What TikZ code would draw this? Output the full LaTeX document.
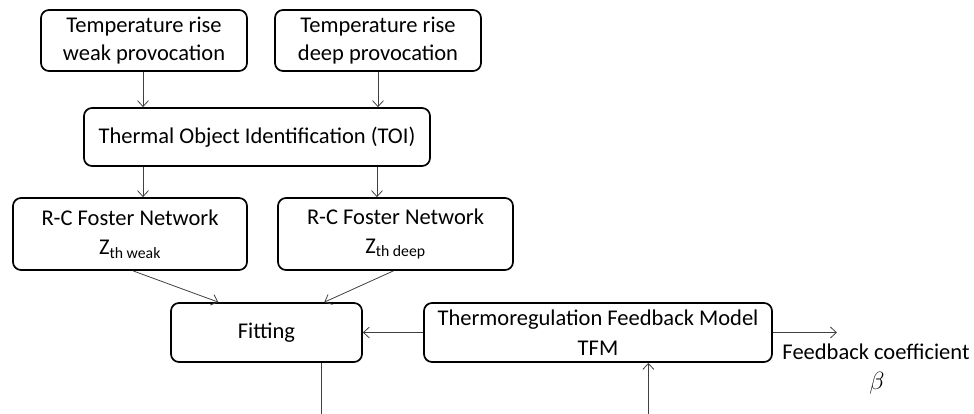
\documentclass[tikz,border=0pt]{standalone}
\usepackage{fontspec}
\setmainfont{Carlito}
\usetikzlibrary{calc,arrows.meta}

\tikzset{
	blok/.style={draw, line width=1.7pt, rounded corners=8pt, align=center,
		inner sep=0pt, font=\fontsize{22.5}{28}\selectfont},
	freccia/.style={-{Straight Barb[length=6pt,width=11pt]}, line width=0.8pt, draw=black!75},
	linea/.style={line width=0.8pt, draw=black!75}
}

\begin{document}
\begin{tikzpicture}[x=1pt,y=-1pt]

	\useasboundingbox (0,0) rectangle (974,414);

	% Provocazioni in alto
	\node[blok, minimum width=206pt, minimum height=61pt] (weak) at (144,40.5)
		{Temperature rise\\weak provocation};
	\node[blok, minimum width=206pt, minimum height=61pt] (deep) at (378,40.5)
		{Temperature rise\\deep provocation};

	% Identificazione
	\node[blok, minimum width=346pt, minimum height=58pt] (toi) at (257,137)
		{Thermal Object Identification (TOI)};

	% Reti di Foster
	\node[blok, minimum width=234pt, minimum height=72pt] (rcweak) at (130,234)
		{R-C Foster Network\\[1pt]Z\textsubscript{th weak}};
	\node[blok, minimum width=235pt, minimum height=72pt] (rcdeep) at (395.5,234)
		{R-C Foster Network\\[1pt]Z\textsubscript{th deep}};

	% Fitting e modello
	\node[blok, minimum width=191pt, minimum height=59pt] (fit) at (266.5,332.5)
		{Fitting};
	\node[blok, minimum width=348pt, minimum height=59pt] (tfm) at (598,332.5)
		{Thermoregulation Feedback Model\\[2pt]TFM};

	\node[font=\fontsize{22.5}{28}\selectfont, inner sep=0pt] (coeff) at (876,352)
		{Feedback coefficient};
	\node[font=\fontsize{27}{30}\selectfont, inner sep=0pt] (beta) at (877,383)
		{$\beta$};

	\coordinate (uscita) at (837,332.5);
	\coordinate (giuFit) at ($(fit.south west)!0.785!(fit.south east)$);
	\coordinate (suTfm) at ($(tfm.south west)!0.644!(tfm.south east)$);

	% Frecce
	\draw[freccia] ([xshift=-1pt]weak.south) -- ([xshift=-1pt]weak.south |- toi.north);
	\draw[freccia] (deep.south) -- (deep.south |- toi.north);
	\draw[freccia] ([xshift=-1pt]weak.south |- toi.south) -- ([xshift=-1pt]weak.south |- rcweak.north);
	\draw[freccia] ([xshift=-1pt]deep.south |- toi.south) -- ([xshift=-1pt]deep.south |- rcdeep.north);
	\draw[freccia] ([xshift=3pt]rcweak.south) -- ($(fit.north west)!0.25!(fit.north east)$);
	\draw[freccia] ([xshift=-2pt]rcdeep.south) -- ($(fit.north west)!0.8!(fit.north east)$);
	\draw[freccia] (tfm.west) -- (fit.east);
	\draw[freccia] (tfm.east) -- (uscita);
	\draw[linea] (giuFit) -- (giuFit |- 0,414);
	\draw[freccia] (suTfm |- 0,414) -- (suTfm);

\end{tikzpicture}
\end{document}
